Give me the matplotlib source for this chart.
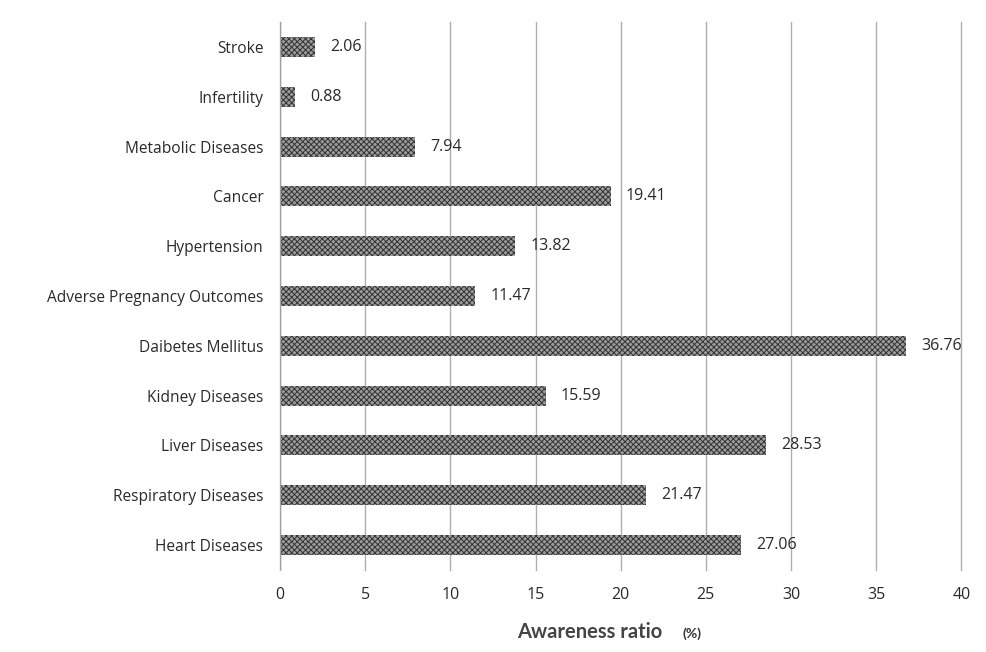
import matplotlib
matplotlib.use('Agg')
import matplotlib.pyplot as plt

categories = ['Heart Diseases', 'Respiratory Diseases', 'Liver Diseases', 'Kidney Diseases',
              'Daibetes Mellitus', 'Adverse Pregnancy Outcomes', 'Hypertension', 'Cancer',
              'Metabolic Diseases', 'Infertility', 'Stroke']
values = [27.06, 21.47, 28.53, 15.59, 36.76, 11.47, 13.82, 19.41, 7.94, 0.88, 2.06]
xticks = [0, 5, 10, 15, 20, 25, 30, 35, 40]

plt.rcParams['font.family'] = ['Open Sans', 'DejaVu Sans']
plt.rcParams['hatch.linewidth'] = 0.7
plt.rcParams['hatch.color'] = '#333333'

fig = plt.figure(figsize=(9.86, 6.52), dpi=100)
ax = fig.add_axes([0.284, 0.126, 0.691, 0.840])

ypos = list(range(len(categories)))
ax.barh(ypos, values, height=0.4, color='#9c9c9c', hatch='xxxxxx',
        edgecolor='#333333', linewidth=0, zorder=3)

for y, v in zip(ypos, values):
    ax.text(v + 0.9, y, f'{v:.2f}', va='center', ha='left', fontsize=11.5, color='#2a2a2a')

ax.set_xlim(0, 40)
ax.set_ylim(-0.5, len(categories) - 0.5)
ax.set_xticks(xticks)
ax.set_yticks(ypos)
ax.set_yticklabels(categories, fontsize=11.2, color='#2a2a2a')
ax.tick_params(axis='x', length=0, labelsize=11.5, colors='#2a2a2a', pad=12)
ax.tick_params(axis='y', length=0, pad=12)
for x in xticks:
    ax.axvline(x, color='#b0b0b0', linewidth=1, zorder=0, clip_on=False)
ax.axvline(0, color='#a0a0a0', linewidth=1, zorder=4)
for s in ax.spines.values():
    s.set_visible(False)

fig.text(0.524, 0.016, 'Awareness ratio', fontsize=14.5, fontweight='bold', color='#444444',
         ha='left', va='bottom', family='Lato')
fig.text(0.692, 0.019, '(%)', fontsize=10, fontweight='bold', color='#333333',
         ha='left', va='bottom', family='Lato')

fig.savefig('out.png', dpi=100)
